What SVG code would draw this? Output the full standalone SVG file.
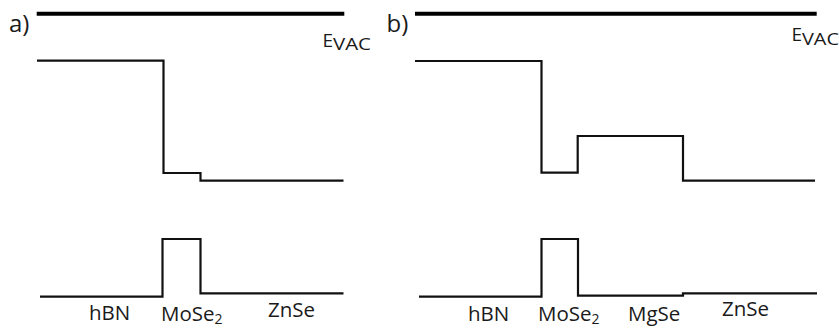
<svg xmlns="http://www.w3.org/2000/svg" width="839" height="328" viewBox="0 0 839 328">
<style>
.vac{stroke:#000;stroke-width:4;fill:none}
.band{stroke:#111;stroke-width:2.2;fill:none;stroke-linejoin:miter}
text{font-family:"Open Sans","Noto Sans",sans-serif;fill:#1a1a1a}
.lbl{font-size:20.5px}
.pl{font-size:24px}
.e{font-size:19px}
.sub{font-size:16px}
.s2{font-size:14px}
</style>
<rect width="839" height="328" fill="#fff"/>
<g id="panel-a">
  <text class="pl" x="9" y="32">a)</text>
  <g id="a-vacuum">
    <path class="vac" d="M36.7,13.7 H344.3"/>
    <text class="e" x="322.5" y="46.7">E<tspan class="sub" x="333" y="49.5" textLength="38" lengthAdjust="spacingAndGlyphs">VAC</tspan></text>
  </g>
  <g id="a-cb"><path class="band" d="M37,60.7 H163.5 V173 H200.5 V180.7 H343.5"/></g>
  <g id="a-vb"><path class="band" d="M40,296.7 H162.5 V239 H200.5 V293.3 H343.5"/></g>
  <g id="a-labels">
    <text class="lbl" x="89" y="320">hBN</text>
    <text class="lbl" x="161" y="320.5">MoSe<tspan class="s2" dy="3.5">2</tspan></text>
    <text class="lbl" x="268" y="316.7">ZnSe</text>
  </g>
</g>
<g id="panel-b">
  <text class="pl" x="386.5" y="32">b)</text>
  <g id="b-vacuum">
    <path class="vac" d="M415,13.7 H816.7"/>
    <text class="e" x="791.5" y="40.5">E<tspan class="sub" x="802" y="45" textLength="37" lengthAdjust="spacingAndGlyphs">VAC</tspan></text>
  </g>
  <g id="b-cb"><path class="band" d="M415,61 H541.5 V172.7 H577.7 V136 H683 V180.7 H815"/></g>
  <g id="b-vb"><path class="band" d="M419,296.7 H541.5 V239 H578 V295.7 H683 V293.3 H817"/></g>
  <g id="b-labels">
    <text class="lbl" x="468" y="320.5">hBN</text>
    <text class="lbl" x="538" y="320.5">MoSe<tspan class="s2" dy="3.5">2</tspan></text>
    <text class="lbl" x="628" y="321">MgSe</text>
    <text class="lbl" x="722" y="315.7">ZnSe</text>
  </g>
</g>
</svg>
